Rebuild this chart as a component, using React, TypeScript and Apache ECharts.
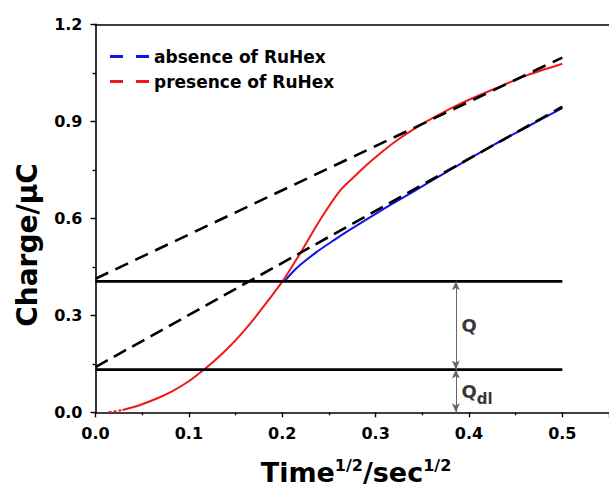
import React, { useEffect, useRef } from "react";
import * as echarts from "echarts";

// Axis settings
const xMin = 0;
const xMax = 0.55;
const xStep = 0.1;
const yMin = 0;
const yMax = 1.2;
const yStep = 0.3;

const seriesNames = ["absence of RuHex", "presence of RuHex"];

// Measured curves [time^1/2, charge]
const absenceCurve: [number, number][] = [
  [0.2036, 0.409], [0.21, 0.43], [0.2194, 0.456], [0.237, 0.496], [0.2547, 0.531],
  [0.2722, 0.564], [0.29, 0.596], [0.3075, 0.627], [0.3215, 0.651], [0.34, 0.682],
  [0.357, 0.711], [0.39, 0.767], [0.427, 0.828], [0.465, 0.887], [0.5, 0.941],
];
const presenceCurve: [number, number][] = [
  [0.029, 0.007], [0.047, 0.022], [0.065, 0.042], [0.082, 0.065], [0.1, 0.096],
  [0.114, 0.127], [0.128, 0.161], [0.142, 0.199], [0.156, 0.242], [0.17, 0.29],
  [0.185, 0.346], [0.2, 0.404], [0.212, 0.458], [0.223, 0.51], [0.2405, 0.595],
  [0.2617, 0.685], [0.279, 0.734], [0.29, 0.764], [0.3, 0.789], [0.32, 0.835],
  [0.34, 0.874], [0.36, 0.908], [0.392, 0.956], [0.427, 1.0], [0.462, 1.042],
  [0.5, 1.078],
];
const presenceStart: [number, number][] = [[0.014, 0.0], [0.021, 0.003], [0.03, 0.007]];

// Linear fits
const upperFit: [number, number][] = [[0, 0.413], [0.5, 1.097]];
const lowerFit: [number, number][] = [[0, 0.14], [0.5, 0.945]];

// Levels
const qTotalLevel = 0.405;
const qDlLevel = 0.132;
const levelStart = 0;
const levelEnd = 0.5;
const arrowX = 0.386;

// Annotation anchors
const qLabel: [number, number] = [0.392, 0.267];
const qDlLabel: [number, number] = [0.392, 0.064];

const FONT = "DejaVu Sans";
const DASH_ICON = "path://M0,0H13V3H0Z M26,0H39V3H26Z";

export default function App() {
  const ref = useRef<HTMLDivElement>(null);
  useEffect(() => {
    if (!ref.current) return;
    const chart = echarts.init(ref.current, undefined, { renderer: "svg" });
    const blue = "#1212ee";
    const red = "#f01818";
    const blackDash = (data: [number, number][], dash: number[]) => ({
      type: "line",
      data,
      symbol: "none",
      silent: true,
      lineStyle: { color: "#000", width: 2.6, type: dash },
      z: 4,
    });
    chart.setOption({
      animation: false,
      backgroundColor: "#fff",
      grid: { left: 95.5, right: -7.35, top: 24.3, bottom: 75.7 },
      legend: {
        data: [
          { name: seriesNames[0], icon: DASH_ICON },
          { name: seriesNames[1], icon: DASH_ICON },
        ],
        orient: "vertical",
        left: 105,
        top: 43,
        itemWidth: 39,
        itemHeight: 3,
        itemGap: 8,
        textStyle: { fontFamily: FONT, fontWeight: "bold", fontSize: 17, color: "#000" },
        selectedMode: false,
      },
      xAxis: [
        {
          type: "value",
          min: xMin,
          max: xMax,
          interval: xStep,
          position: "bottom",
          axisLine: { show: true, onZero: false, lineStyle: { color: "#000", width: 1.6 } },
          axisTick: { show: true, inside: false, length: 5, lineStyle: { color: "#000", width: 1.4 } },
          minorTick: { show: true, splitNumber: 2, length: 3, lineStyle: { color: "#000", width: 1.4 } },
          splitLine: { show: false },
          axisLabel: {
            showMaxLabel: false,
            margin: 13,
            fontFamily: FONT,
            fontWeight: "bold",
            fontSize: 16,
            color: "#000",
            formatter: (v: number) => v.toFixed(1),
          },
        },
        {
          type: "value",
          min: xMin,
          max: xMax,
          position: "top",
          axisLine: { show: true, onZero: false, lineStyle: { color: "#000", width: 1.6 } },
          axisTick: { show: false },
          axisLabel: { show: false },
          splitLine: { show: false },
        },
      ],
      yAxis: {
        type: "value",
        min: yMin,
        max: yMax,
        interval: yStep,
        axisLine: { show: true, onZero: false, lineStyle: { color: "#000", width: 1.6 } },
        axisTick: { show: true, inside: false, length: 5, lineStyle: { color: "#000", width: 1.4 } },
        minorTick: { show: true, splitNumber: 2, length: 3, lineStyle: { color: "#000", width: 1.4 } },
        splitLine: { show: false },
        axisLabel: {
          margin: 13,
          fontFamily: FONT,
          fontWeight: "bold",
          fontSize: 16,
          color: "#000",
          formatter: (v: number) => v.toFixed(1),
        },
      },
      series: [
        blackDash(upperFit, [14, 8]),
        blackDash(lowerFit, [14, 7]),
        {
          type: "line",
          data: [[levelStart, qTotalLevel], [levelEnd, qTotalLevel]],
          symbol: "none",
          silent: true,
          lineStyle: { color: "#000", width: 2.6 },
          z: 3,
        },
        {
          type: "line",
          data: [[levelStart, qDlLevel], [levelEnd, qDlLevel]],
          symbol: "none",
          silent: true,
          lineStyle: { color: "#000", width: 2.6 },
          z: 3,
          markLine: {
            silent: true,
            symbol: ["arrow", "arrow"],
            symbolSize: [6, 9],
            label: { show: false },
            lineStyle: { color: "#666", width: 1, type: "solid" },
            data: [
              [{ coord: [arrowX, qTotalLevel] }, { coord: [arrowX, qDlLevel] }],
              [{ coord: [arrowX, qDlLevel] }, { coord: [arrowX, yMin] }],
            ],
          },
        },
        {
          name: seriesNames[0],
          type: "line",
          data: absenceCurve,
          symbol: "none",
          smooth: 0.3,
          color: blue,
          lineStyle: { color: blue, width: 2 },
          z: 2,
        },
        {
          name: seriesNames[1],
          type: "line",
          data: presenceCurve,
          symbol: "none",
          smooth: 0.3,
          color: red,
          lineStyle: { color: red, width: 2 },
          z: 2,
        },
        {
          type: "line",
          data: presenceStart,
          symbol: "none",
          silent: true,
          lineStyle: { color: red, width: 2, type: [3, 2] },
          z: 2,
        },
        {
          type: "scatter",
          symbolSize: 0,
          silent: true,
          data: [
            { value: qLabel, name: "Q" },
            { value: qDlLabel, name: "Qdl" },
          ],
          label: {
            show: true,
            position: "right",
            distance: 0,
            color: "#000",
            formatter: (p: any) => (p.name === "Q" ? "{q|Q}" : "{q|Q}{s|dl}"),
            rich: {
              q: { fontFamily: FONT, fontWeight: "bold", fontSize: 18, color: "#000" },
              s: { fontFamily: FONT, fontWeight: "bold", fontSize: 15, color: "#000", padding: [14, 0, 0, 0] },
            },
          },
        },
      ],
      graphic: [
        {
          type: "text",
          x: 27,
          y: 245,
          rotation: Math.PI / 2,
          style: {
            text: "Charge/μC",
            fontFamily: FONT,
            fontWeight: "bold",
            fontSize: 28,
            fill: "#000",
            align: "center",
            verticalAlign: "middle",
          },
        },
        {
          type: "text",
          x: 356,
          y: 472,
          style: {
            text: "{b|Time}{p|1/2}{b|/sec}{p|1/2}",
            align: "center",
            verticalAlign: "middle",
            rich: {
              b: { fontFamily: FONT, fontWeight: "bold", fontSize: 27, fill: "#000" },
              p: { fontFamily: FONT, fontWeight: "bold", fontSize: 16, fill: "#000", padding: [0, 0, 14, 0] },
            },
          },
        },
      ],
    });
    return () => chart.dispose();
  }, []);
  return (
    <div
      ref={ref}
      style={{ position: "fixed", left: 0, top: 0, width: 609, height: 488, background: "#fff" }}
    />
  );
}
